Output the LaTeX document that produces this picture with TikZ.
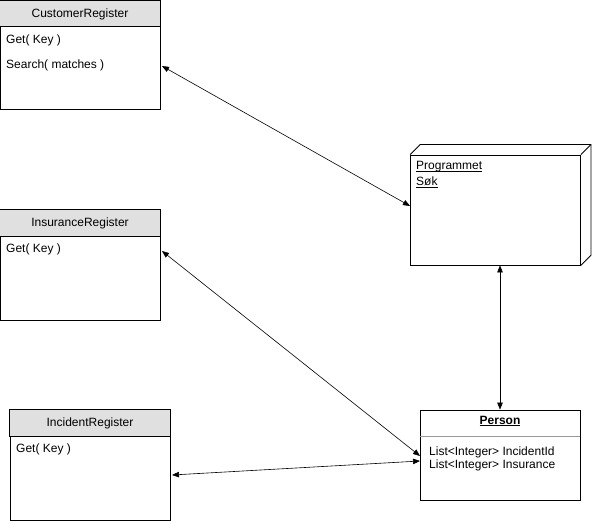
\documentclass[tikz,border=0pt]{standalone}
\usepackage{fontspec}
\setmainfont{Liberation Sans}
\usetikzlibrary{arrows.meta}
\newcommand\myul[1]{\setbox0\hbox{#1}\rlap{\rule[-1.8pt]{\wd0}{0.7pt}}\box0}
\begin{document}
\begin{tikzpicture}[x=1pt,y=-1pt,
  classbox/.style={draw, line width=0.8pt, rectangle, inner sep=0pt, minimum width=160pt},
  hdr/.style={fill=black!12, draw, line width=0.8pt},
  txt/.style={anchor=west, inner sep=0pt, font=\fontsize{12}{14}\selectfont},
  ttl/.style={inner sep=0pt, font=\fontsize{12}{14}\selectfont},
  link/.style={line width=0.6pt, {Triangle[length=7pt,width=5.5pt]}-{Triangle[length=7pt,width=5.5pt]}}]
\useasboundingbox (0,0) rectangle (592,524);
\fill[white] (0,0) rectangle (592,524);
% CustomerRegister
\node[classbox, minimum height=108pt] (cust) at (80,55) {};
\path[hdr] (cust.north west) rectangle ([yshift=-26pt]cust.north east);
\node[ttl] (custt) at (80,14) {CustomerRegister};
\node[txt] (cust1) at (6,40) {Get( Key )};
\node[txt] (cust2) at (6,65) {Search( matches )};
% InsuranceRegister
\node[classbox, minimum height=110pt] (ins) at (80,265) {};
\path[hdr] (ins.north west) rectangle ([yshift=-27pt]ins.north east);
\node[ttl] (inst) at (80,223) {InsuranceRegister};
\node[txt] (ins1) at (6,249) {Get( Key )};
% IncidentRegister
\node[classbox, minimum height=110pt] (inc) at (90,465) {};
\path[hdr] (inc.north west) rectangle ([yshift=-27pt]inc.north east);
\node[ttl] (inct) at (90,423) {IncidentRegister};
\node[txt] (inc1) at (16,449) {Get( Key )};
% Programmet node (3D)
\node[draw, line width=0.8pt, rectangle, minimum width=170pt, minimum height=110pt, inner sep=0pt] (prog) at (495.5,210) {};
\draw[line width=0.8pt] (prog.north west) -- ++(10,-10) -- ([xshift=10pt,yshift=10pt]prog.north east) -- ([xshift=10pt,yshift=10pt]prog.south east) -- (prog.south east);
\draw[line width=0.8pt] (prog.north east) -- ++(10,-10);
\node[txt] (prog1) at (416,167) {\myul{Programmet}};
\node[txt] (prog2) at (416,182) {\myul{Søk}};
% Person
\node[classbox, minimum height=90pt] (pers) at (500,455) {};
\draw[line width=0.4pt, black!40] ([yshift=-27pt]pers.north west) -- ([yshift=-27pt]pers.north east);
\node[ttl, font=\fontsize{12}{14}\selectfont\bfseries] (perst) at (500,421) {\myul{Person}};
\node[txt] (pers1) at (429,452) {List<Integer> IncidentId};
\node[txt] (pers2) at (429,465) {List<Integer> Insurance};
% connectors
\coordinate (a1) at (162,66);
\coordinate (a2) at (410,206);
\draw[link] (a1) -- (a2);
\coordinate (b1) at (162,251);
\coordinate (b2) at (420,456);
\draw[link] (b1) -- (b2);
\coordinate (c1) at (172,475);
\coordinate (c2) at (420,461);
\draw[link] (c1) -- (c2);
\draw[link] (prog.south -| 500,0) -- (pers.north);
\end{tikzpicture}
\end{document}
